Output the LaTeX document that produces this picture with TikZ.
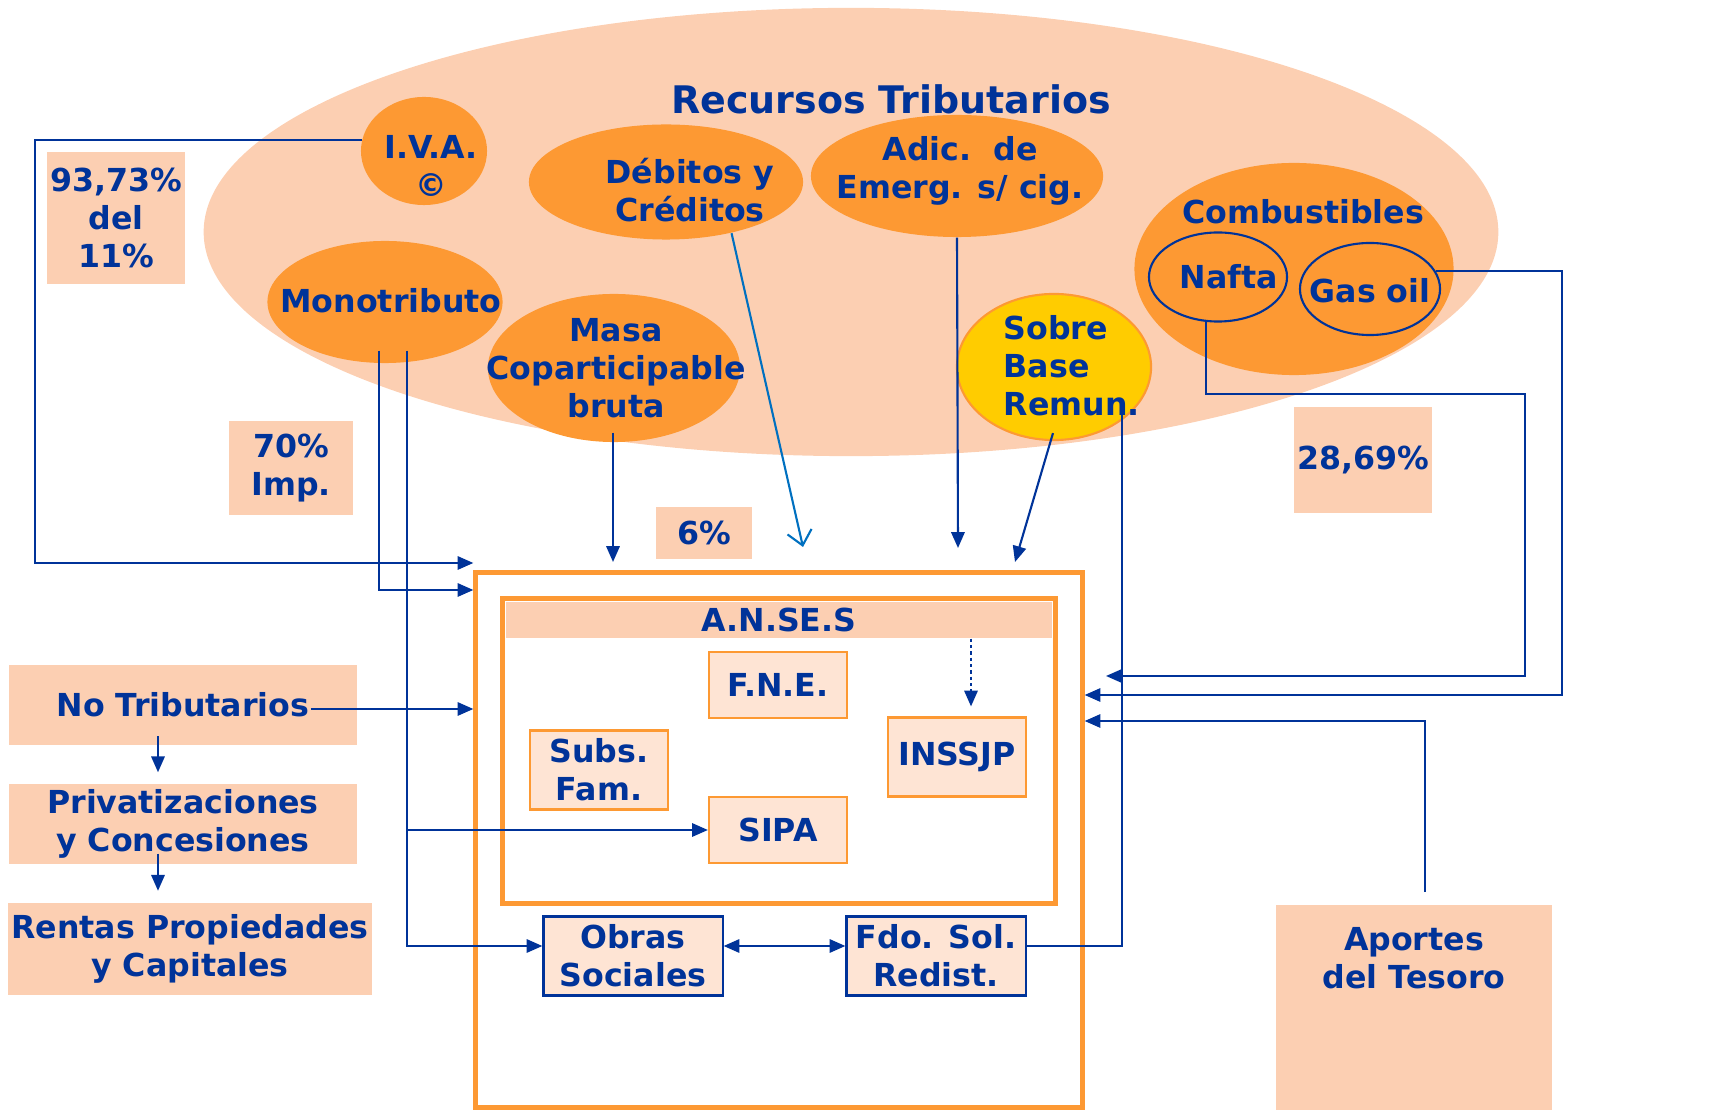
\documentclass[tikz,border=0pt]{standalone}
\usepackage{fontspec}
\setmainfont{DejaVu Sans}
\usetikzlibrary{shapes.geometric}
\usetikzlibrary{arrows.meta}
\usetikzlibrary{calc}
\definecolor{azul}{RGB}{0,51,153}
\definecolor{celeste}{RGB}{0,112,192}
\definecolor{naranja}{RGB}{253,153,51}
\definecolor{durazno}{RGB}{252,207,178}
\definecolor{claro}{RGB}{254,228,212}
\definecolor{amarillo}{RGB}{255,204,0}
\tikzset{
	tributo/.style={ellipse, fill=naranja, inner sep=0pt},
	texto/.style={align=center, inner sep=0pt},
	porcentaje/.style={fill=durazno, inner sep=0pt, align=center},
	ente/.style={draw=naranja, fill=claro, line width=0.6pt, inner sep=0pt, align=center},
	fondo/.style={draw=azul, fill=claro, line width=0.6pt, inner sep=0pt, align=center},
	marco/.style={draw=naranja, line width=1.4pt, inner sep=0pt},
	linea/.style={draw=azul, line width=0.6pt},
	flecha/.style={linea, -{Triangle[length=4.5pt,width=3.8pt]}}
}

\begin{document}
\begin{tikzpicture}[x=0.01cm, y=-0.01cm, text=azul, font=\bfseries\fontsize{9}{10.8}\selectfont]
	\useasboundingbox (0,0) rectangle (1727,1110);
	\node[ellipse, fill=durazno, minimum width=12.94cm, minimum height=4.48cm] (recursos) at (851,232) {};
	\node[font=\bfseries\fontsize{10.8}{13}\selectfont] (titulo) at (891,99) {Recursos Tributarios};

	\node[tributo, minimum width=1.26cm, minimum height=1.08cm] (iva) at (424,151) {};
	\node[texto] (iva-t) at (431,166) {I.V.A.\\©};
	\node[tributo, minimum width=2.74cm, minimum height=1.15cm] (deb) at (666,182) {};
	\node[texto] (deb-t) at (690,190) {Débitos y\\Créditos};
	\node[tributo, minimum width=2.92cm, minimum height=1.22cm] (adic) at (957,176) {};
	\node[texto] (adic-t) at (960,171) {Adic.~~de\\Emerg. s/ cig.};
	\node[tributo, minimum width=2.35cm, minimum height=1.22cm] (mono) at (385,302) {};
	\node[texto] (mono-t) at (391,301) {Monotributo};
	\node[tributo, minimum width=2.52cm, minimum height=1.48cm] (masa) at (614,368) {};
	\node[texto] (masa-t) at (616,368) {Masa\\Coparticipable\\bruta};
	\node[tributo, minimum width=3.19cm, minimum height=2.12cm] (comb) at (1294,269) {};
	\node[texto] (comb-t) at (1303,212) {Combustibles};
	\node[tributo, draw=azul, line width=0.6pt, minimum width=1.38cm, minimum height=0.89cm] (nafta) at (1218,277) {};
	\node[texto] (nafta-t) at (1229,277) {Nafta};
	\node[tributo, draw=azul, line width=0.6pt, minimum width=1.40cm, minimum height=0.92cm] (gas) at (1370,289) {};
	\node[texto] (gas-t) at (1370,291) {Gas oil};
	\node[tributo, fill=amarillo, draw=naranja, line width=0.6pt, minimum width=1.94cm, minimum height=1.46cm] (sobre) at (1054,367) {};
	\node[texto, align=left, anchor=west] (sobre-t) at (1003,366) {Sobre\\Base\\Remun.};

	\node[porcentaje, minimum width=1.37cm, minimum height=1.32cm] (p93) at (116,218) {93,73\%\\del\\11\%};
	\node[porcentaje, minimum width=1.24cm, minimum height=0.94cm] (p70) at (291,468) {70\%\\Imp.};
	\node[porcentaje, minimum width=0.96cm, minimum height=0.52cm] (p6) at (704,533) {6\%};
	\node[porcentaje, minimum width=1.37cm, minimum height=1.06cm] (p28) at (1363,460) {28,69\%};

	\node[porcentaje, minimum width=3.48cm, minimum height=0.79cm] (notrib) at (183,705) {No Tributarios};
	\node[porcentaje, minimum width=3.48cm, minimum height=0.80cm] (priv) at (183,824) {Privatizaciones\\y Concesiones};
	\node[porcentaje, minimum width=3.63cm, minimum height=0.91cm] (rentas) at (190,949) {Rentas Propiedades\\y Capitales};
	\node[porcentaje, minimum width=2.76cm, minimum height=2.06cm, anchor=north] (aport) at (1414,904) {};
	\node[texto] (aport-t) at (1414,958) {Aportes\\del Tesoro};

	\node[marco, fill=white, minimum width=6.06cm, minimum height=5.34cm] (caja) at (779,840) {};
	\node[marco, minimum width=5.52cm, minimum height=3.04cm] (anses) at (779,751) {};
	\node[porcentaje, minimum width=5.46cm, minimum height=0.36cm] (anses-t) at (779,620) {A.N.SE.S};
	\node[ente, minimum width=1.38cm, minimum height=0.66cm] (fne) at (778,685) {F.N.E.};
	\node[ente, minimum width=1.38cm, minimum height=0.79cm] (subs) at (599,770) {Subs.\\Fam.};
	\node[ente, minimum width=1.38cm, minimum height=0.79cm] (inssjp) at (957,757) {INSSJP};
	\node[ente, minimum width=1.38cm, minimum height=0.66cm] (sipa) at (778,830) {SIPA};
	\node[fondo, minimum width=1.79cm, minimum height=0.79cm] (obras) at (633,956) {Obras\\Sociales};
	\node[fondo, minimum width=1.79cm, minimum height=0.79cm] (fdo) at (936,956) {Fdo. Sol.\\Redist.};

	\coordinate (e-masa) at (613,562);
	\coordinate (e-deb) at (803,547);
	\coordinate (e-adic) at (958,548);
	\coordinate (e-sobre) at (1015,562);
	\coordinate (e-nafta) at (1106,676);
	\coordinate (e-aport) at (1425,892);
	\coordinate (e-fdo) at (1122,405);

	\draw[flecha] (iva.170) -| (35,563) -- (caja.west |- 0,563);
	\draw[flecha] ($(mono.south)+(-6,-13)$) |- (caja.west |- 0,590);
	\draw[flecha] ($(mono.south)+(22,-13)$) |- ($(obras.west)+(0,-10)$);
	\draw[flecha] (sipa.west -| 407,0) -- (sipa.west);
	\draw[flecha] ($(notrib.east)+(-47,4)$) -- (caja.west |- 0,709);
	\draw[flecha] ($(notrib.south)+(-25,-9)$) -- ($(priv.north)+(-25,-11)$);
	\draw[flecha] ($(priv.south)+(-25,-11)$) -- ($(rentas.north)+(-32,-12)$);
	\draw[flecha] ($(masa.south)+(-1,-10)$) -- (e-masa);
	\draw[celeste, line width=0.6pt, -{Straight Barb[length=4pt,width=7pt]}] (deb.322) -- (e-deb);
	\draw[flecha] (adic.south) -- (e-adic);
	\draw[flecha] ($(sobre.south)+(-1,-8)$) -- (e-sobre);
	\draw[flecha] (nafta.255) |- (1525,394) |- (e-nafta);
	\draw[flecha] (gas.15) -| (1562,695) -- (caja.east |- 0,695);
	\draw[flecha] (e-aport) |- (caja.east |- 0,721);
	\draw[linea] (e-fdo) |- ($(fdo.east)+(0,-10)$);
	\draw[linea, {Triangle[length=4.5pt,width=3.8pt]}-{Triangle[length=4.5pt,width=3.8pt]}] ($(obras.east)+(0,-10)$) -- ($(fdo.west)+(0,-10)$);
	\draw[flecha, dash pattern=on 0.9pt off 0.9pt] (anses-t.south -| 971,0) -- ($(inssjp.north)+(14,-10)$);
\end{tikzpicture}
\end{document}
